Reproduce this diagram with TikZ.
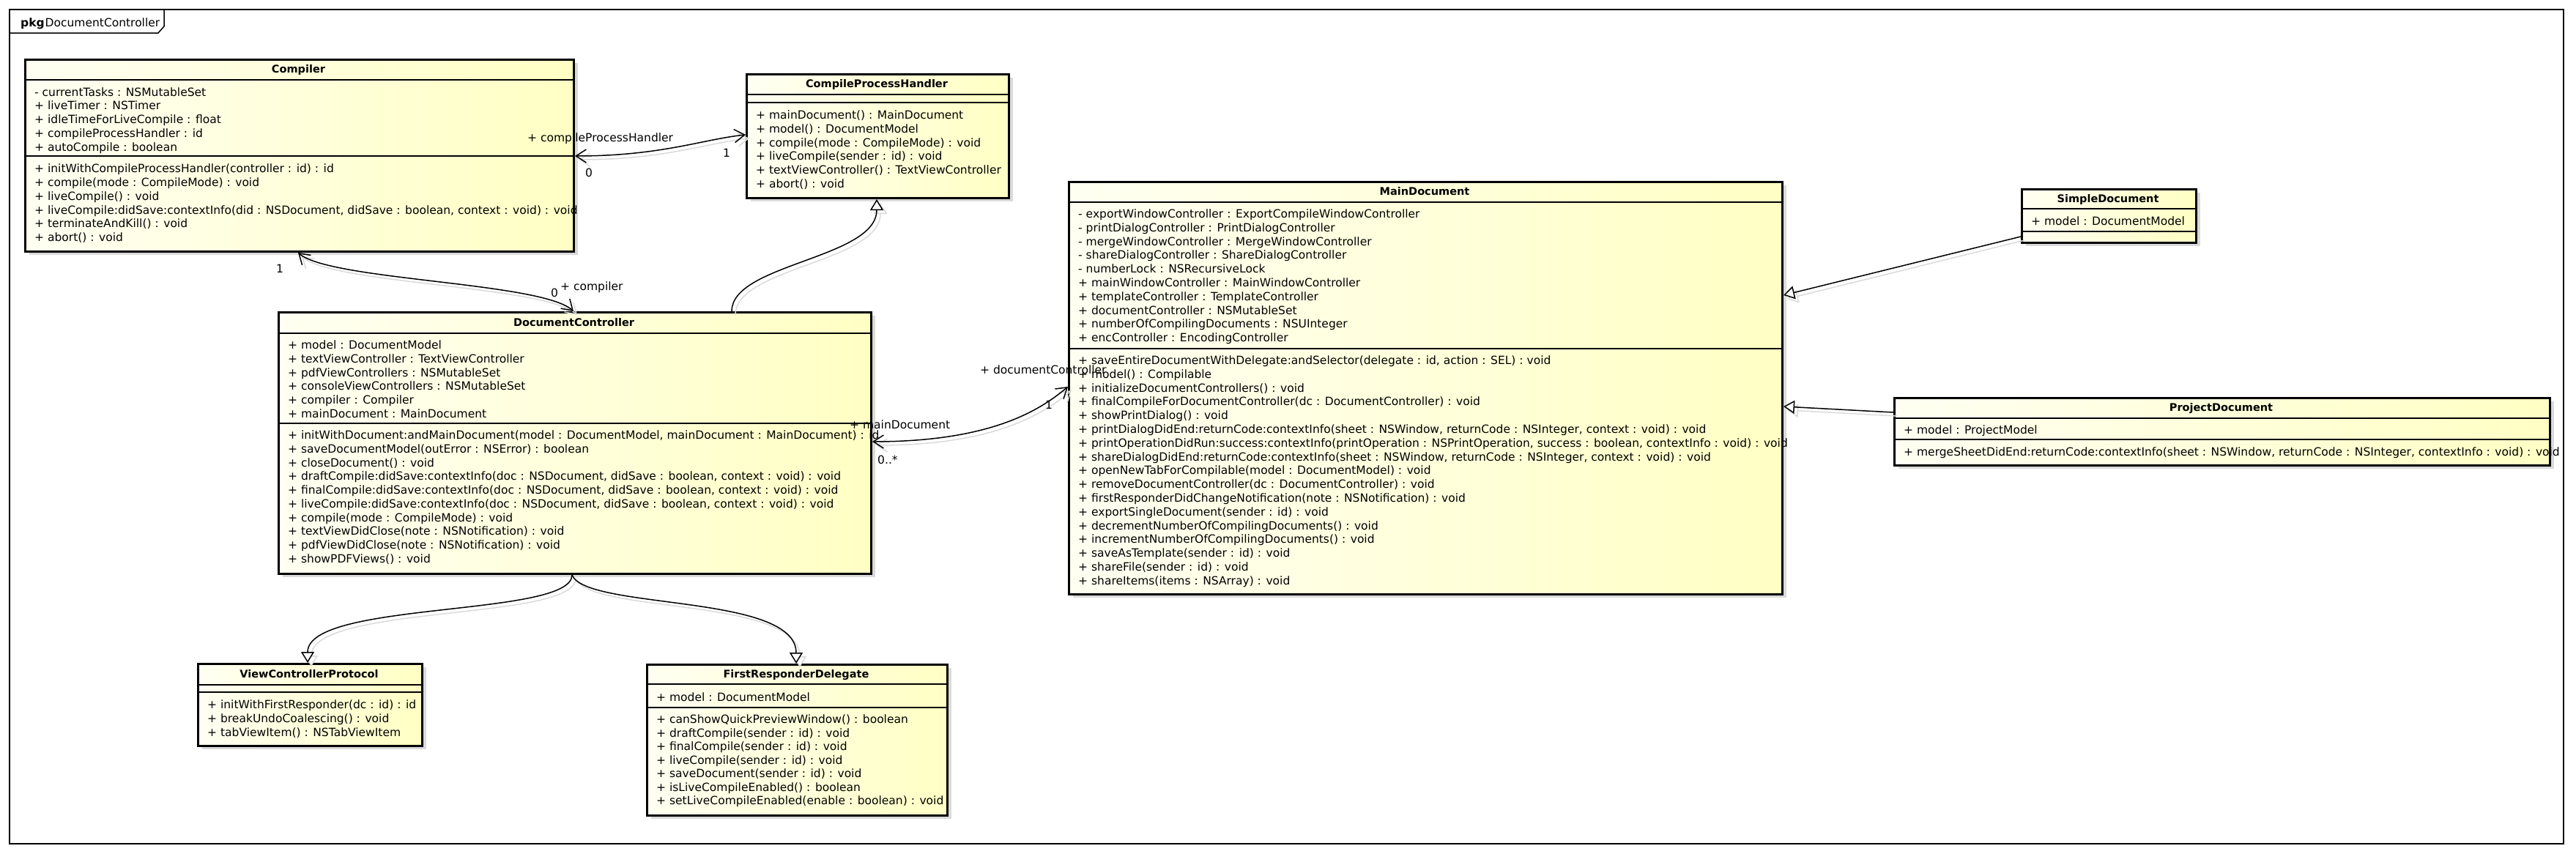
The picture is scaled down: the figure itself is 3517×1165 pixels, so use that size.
\documentclass[tikz,border=0pt]{standalone}
\usepackage{fontspec}
\setmainfont{DejaVu Sans}
\usetikzlibrary{arrows.meta,calc}
\definecolor{boxL}{RGB}{255,255,242}
\definecolor{boxR}{RGB}{255,255,196}
\definecolor{shadowgray}{RGB}{218,218,218}
\newcommand\bodyfont{\fontsize{15.5}{18.75}\selectfont}
\newcommand\headfont{\bfseries\fontsize{14.5}{18}\selectfont}
\tikzset{
  classrect/.style={draw, line width=3pt, rectangle, inner sep=0pt, left color=boxL, right color=boxR},
  sepline/.style={line width=1.3pt},
  headtext/.style={font=\headfont, inner sep=0pt, anchor=base},
  linetext/.style={font=\bodyfont, inner sep=0pt, anchor=base west},
  lbl/.style={font=\bodyfont, inner sep=0pt},
  conn/.style={line width=1.5pt, preaction={draw=shadowgray, line width=1.5pt, transform canvas={xshift=5pt,yshift=-5pt}}},
  assoc/.style={conn, arrows={Straight Barb[length=14pt,width=18pt]-Straight Barb[length=14pt,width=18pt]}},
  gen/.style={conn, arrows={-Triangle[length=15pt,width=18pt,fill=white]}},
}
\newcommand\classbox[5]{%
  \fill[shadowgray] (#2+7,#3+6) rectangle (#4+7,#5+6);
  \node[classrect, anchor=north west, minimum width={#4-#2}, minimum height={#5-#3}] (#1) at (#2,#3) {};
}
\newcommand\sepat[3]{\draw[sepline] (#1,#3) -- (#2,#3);}
\newcommand\classlines[5]{%
  \foreach \ln [count=\i] in {#5} {
    \node[linetext] (#1-\i) at (#2,{#3+(\i-1)*#4}) {\ln};
  }
}
\begin{document}
\begin{tikzpicture}[x=1pt,y=-1pt]
\useasboundingbox (0,0) rectangle (3517,1165);
% package frame
\draw[line width=1.5pt] (13,13) rectangle (3500,1152);
\draw[line width=1.5pt] (13,45) -- (216,45) -- (224,36) -- (224,13);
\node[anchor=base west, inner sep=0pt, font=\bodyfont] (pkg) at (28,36.5) {\textbf{pkg}\kern1pt DocumentController};

% Compiler
\classbox{cmp}{33}{80}{782}{342}
\sepat{33}{782}{109}\sepat{33}{782}{213}
\node[headtext] (cmp-t) at (407.5,99.8) {Compiler};
\classlines{cmp-a}{47}{131.2}{18.75}{{- currentTasks : NSMutableSet},{+ liveTimer : NSTimer},{+ idleTimeForLiveCompile : float},{+ compileProcessHandler : id},{+ autoCompile : boolean}}
\classlines{cmp-m}{47}{235.8}{18.75}{{+ initWithCompileProcessHandler(controller : id) : id},{+ compile(mode : CompileMode) : void},{+ liveCompile() : void},{+ liveCompile:didSave:contextInfo(did : NSDocument, didSave : boolean, context : void) : void},{+ terminateAndKill() : void},{+ abort() : void}}

% CompileProcessHandler
\classbox{cph}{1018}{100}{1376}{269}
\sepat{1018}{1376}{129}\sepat{1018}{1376}{140}
\node[headtext] (cph-t) at (1197,119.8) {CompileProcessHandler};
\classlines{cph-m}{1032}{162.5}{18.75}{{+ mainDocument() : MainDocument},{+ model() : DocumentModel},{+ compile(mode : CompileMode) : void},{+ liveCompile(sender : id) : void},{+ textViewController() : TextViewController},{+ abort() : void}}

% DocumentController
\classbox{dc}{379}{425}{1188}{782}
\sepat{379}{1188}{455}\sepat{379}{1188}{578}
\node[headtext] (dc-t) at (783.5,445.3) {DocumentController};
\classlines{dc-a}{393}{476.5}{18.75}{{+ model : DocumentModel},{+ textViewController : TextViewController},{+ pdfViewControllers : NSMutableSet},{+ consoleViewControllers : NSMutableSet},{+ compiler : Compiler},{+ mainDocument : MainDocument}}
\classlines{dc-m}{393}{599.5}{18.75}{{+ initWithDocument:andMainDocument(model : DocumentModel, mainDocument : MainDocument) : id},{+ saveDocumentModel(outError : NSError) : boolean},{+ closeDocument() : void},{+ draftCompile:didSave:contextInfo(doc : NSDocument, didSave : boolean, context : void) : void},{+ finalCompile:didSave:contextInfo(doc : NSDocument, didSave : boolean, context : void) : void},{+ liveCompile:didSave:contextInfo(doc : NSDocument, didSave : boolean, context : void) : void},{+ compile(mode : CompileMode) : void},{+ textViewDidClose(note : NSNotification) : void},{+ pdfViewDidClose(note : NSNotification) : void},{+ showPDFViews() : void}}

% MainDocument
\classbox{md}{1458}{247}{2432}{810}
\sepat{1458}{2432}{276}\sepat{1458}{2432}{476}
\node[headtext] (md-t) at (1945,266.8) {MainDocument};
\classlines{md-a}{1472}{297.5}{18.8}{{- exportWindowController : ExportCompileWindowController},{- printDialogController : PrintDialogController},{- mergeWindowController : MergeWindowController},{- shareDialogController : ShareDialogController},{- numberLock : NSRecursiveLock},{+ mainWindowController : MainWindowController},{+ templateController : TemplateController},{+ documentController : NSMutableSet},{+ numberOfCompilingDocuments : NSUInteger},{+ encController : EncodingController}}
\classlines{md-m}{1472}{497.5}{18.8}{{+ saveEntireDocumentWithDelegate:andSelector(delegate : id, action : SEL) : void},{+ model() : Compilable},{+ initializeDocumentControllers() : void},{+ finalCompileForDocumentController(dc : DocumentController) : void},{+ showPrintDialog() : void},{+ printDialogDidEnd:returnCode:contextInfo(sheet : NSWindow, returnCode : NSInteger, context : void) : void},{+ printOperationDidRun:success:contextInfo(printOperation : NSPrintOperation, success : boolean, contextInfo : void) : void},{+ shareDialogDidEnd:returnCode:contextInfo(sheet : NSWindow, returnCode : NSInteger, context : void) : void},{+ openNewTabForCompilable(model : DocumentModel) : void},{+ removeDocumentController(dc : DocumentController) : void},{+ firstResponderDidChangeNotification(note : NSNotification) : void},{+ exportSingleDocument(sender : id) : void},{+ decrementNumberOfCompilingDocuments() : void},{+ incrementNumberOfCompilingDocuments() : void},{+ saveAsTemplate(sender : id) : void},{+ shareFile(sender : id) : void},{+ shareItems(items : NSArray) : void}}

% SimpleDocument
\classbox{sd}{2759}{257}{2997}{330}
\sepat{2759}{2997}{285}\sepat{2759}{2997}{316}
\node[headtext] (sd-t) at (2878,276.3) {SimpleDocument};
\classlines{sd-a}{2773}{307.5}{18.75}{{+ model : DocumentModel}}

% ProjectDocument
\classbox{pd}{2585}{542}{3480}{634}
\sepat{2585}{3480}{571}\sepat{2585}{3480}{600}
\node[headtext] (pd-t) at (3032.5,561.8) {ProjectDocument};
\classlines{pd-a}{2599}{592.5}{18.75}{{+ model : ProjectModel}}
\classlines{pd-m}{2599}{622.5}{18.75}{{+ mergeSheetDidEnd:returnCode:contextInfo(sheet : NSWindow, returnCode : NSInteger, contextInfo : void) : void}}

% ViewControllerProtocol
\classbox{vcp}{269}{905}{575}{1017}
\sepat{269}{575}{935}\sepat{269}{575}{945}
\node[headtext] (vcp-t) at (422,925.3) {ViewControllerProtocol};
\classlines{vcp-m}{283}{967.5}{18.75}{{+ initWithFirstResponder(dc : id) : id},{+ breakUndoCoalescing() : void},{+ tabViewItem() : NSTabViewItem}}

% FirstResponderDelegate
\classbox{frd}{882}{906}{1292}{1112}
\sepat{882}{1292}{934}\sepat{882}{1292}{966}
\node[headtext] (frd-t) at (1087,925.3) {FirstResponderDelegate};
\classlines{frd-a}{896}{957.5}{18.75}{{+ model : DocumentModel}}
\classlines{frd-m}{896}{987.5}{18.5}{{+ canShowQuickPreviewWindow() : boolean},{+ draftCompile(sender : id) : void},{+ finalCompile(sender : id) : void},{+ liveCompile(sender : id) : void},{+ saveDocument(sender : id) : void},{+ isLiveCompileEnabled() : boolean},{+ setLiveCompileEnabled(enable : boolean) : void}}

% connectors
\draw[assoc] ($(cmp.north east)+(0,133)$) .. controls +(118,0) and +(-58,6) .. ($(cph.north west)+(0,84)$);
\draw[assoc] ($(cmp.south west)+(374,0)$) .. controls +(43,38) and +(-43,-40) .. ($(dc.north west)+(404,0)$);
\draw[gen] ($(dc.north west)+(620,0)$) .. controls +(0,-65) and +(0,81) .. ($(cph.south west)+(179,0)$);
\draw[assoc] ($(dc.north east)+(0,178)$) .. controls +(162,0) and +(-38,32) .. ($(md.north west)+(0,281)$);
\draw[gen] ($(sd.north west)+(0,66)$) -- ($(md.north east)+(0,156)$);
\draw[gen] ($(pd.north west)+(0,21)$) -- ($(md.north east)+(0,308)$);
\draw[gen] ($(dc.south west)+(402,0)$) .. controls +(0,58) and +(0,-85) .. ($(vcp.north west)+(151,0)$);
\draw[gen] ($(dc.south west)+(402,0)$) .. controls +(19,48) and +(0,-96) .. ($(frd.north west)+(205,0)$);

% connector labels
\node[lbl, anchor=base west] (l-cph) at (720,193.5) {+ compileProcessHandler};
\node[lbl] (l-cph0) at (804,236) {0};
\node[lbl] (l-cph1) at (992,209) {1};
\node[lbl, anchor=base west] (l-cmp) at (765,396.5) {+ compiler};
\node[lbl] (l-cmp0) at (757,400) {0};
\node[lbl] (l-cmp1) at (382,367) {1};
\node[lbl, anchor=base west] (l-md) at (1160,585.5) {+ mainDocument};
\node[lbl, anchor=base west] (l-md0) at (1198,633.5) {0..*};
\node[lbl, anchor=base west] (l-dc) at (1338,510.5) {+ documentController};
\node[lbl] (l-dc1) at (1432,553) {1};
\end{tikzpicture}
\end{document}
